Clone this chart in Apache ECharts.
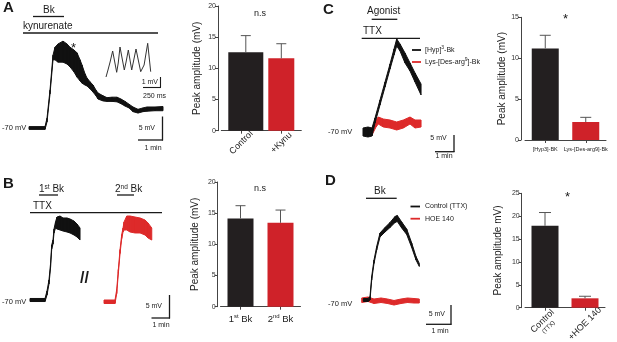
<!DOCTYPE html>
<html><head><meta charset="utf-8">
<script src="https://cdn.jsdelivr.net/npm/echarts@6/dist/echarts.min.js"></script>
<style>html,body{margin:0;padding:0;background:#fff}#c{width:617px;height:342px}</style>
</head><body><div id="c"></div>
<script>
// ---------- bar chart data ----------
const barA_cats = ['Control', '+Kynu'];
const barA_vals = [12.6, 11.6];
const barA_err = [2.65, 2.35];
const barB_cats = ['1st Bk', '2nd Bk'];
const barB_vals = [14.15, 13.45];
const barB_err = [2.05, 2.05];
const barC_cats = ['[Hyp3]-BK', 'Lys-[Des-arg9]-Bk'];
const barC_vals = [11.2, 2.2];
const barC_err = [1.6, 0.57];
const barD_cats = ['Control (TTX)', '+HOE 140'];
const barD_vals = [17.9, 2.05];
const barD_err = [2.9, 0.45];
const yTicksA = [0, 20], yTicksB = [0, 20], yTicksC = [0, 15], yTicksD = [0, 25];

// ---------- traces: [time (s), upper envelope (mV), lower envelope (mV)] ----------
const traceA = [[0,-69.7,-70.3],[40,-69.7,-70.3],[45,-67.9,-68.7],[52.5,-61.9,-62.7],[60,-54.4,-55.4],[65,-52.7,-55.4],[72.5,-52.0,-55.9],[85,-51.4,-55.9],[95,-52.0,-56.3],[102.5,-52.7,-56.9],[112.5,-53.3,-58.0],[120,-53.9,-59.1],[127.5,-55.4,-59.9],[132.5,-56.5,-60.4],[140,-58.4,-60.8],[145,-59.3,-61.0],[152.5,-60.1,-61.6],[160,-60.8,-62.3],[167.5,-61.9,-63.1],[172.5,-62.5,-63.8],[185,-63.1,-64.2],[195,-63.5,-64.3],[207.5,-63.4,-64.3],[220,-63.4,-64.4],[230,-63.8,-64.8],[240,-64.3,-65.3],[250,-64.9,-65.7],[260,-65.5,-66.5],[272.5,-66.0,-66.8],[285,-65.7,-66.5],[295,-65.5,-66.4],[315,-65.5,-66.3],[335,-65.4,-66.3]];
// inset: [time (ms), mV]
const insetA = [[0,0],[29,0.7],[60,1.5],[98,2.6],[157,0.47],[180,1.4],[206,3.0],[269,0.7],[295,1.5],[328,2.7],[378,0.7],[405,1.6],[441,2.8],[510,0.53],[560,1.2],[613,3.37],[657,0.53]];
const traceB1 = [[0,-69.67,-70.33],[53,-69.67,-70.33],[60,-68.04,-68.91],[67,-65.65,-66.52],[72.4,-62.17,-63.04],[76.6,-58.04,-58.91],[81.2,-56.96,-57.83],[84.7,-54.57,-55.43],[90,-53.04,-54.35],[95.3,-51.96,-54.57],[105.9,-51.74,-54.78],[116.5,-52.17,-55.0],[130.6,-52.17,-55.22],[141.2,-52.39,-55.43],[155.3,-52.83,-55.87],[165.9,-53.48,-56.3],[176.5,-54.35,-56.96]];
const traceB2 = [[261.2,-70,-70.76],[300,-70,-70.76],[306,-67.72,-68.59],[311.7,-63.37,-64.24],[317.7,-59.02,-59.89],[323.7,-55.76,-56.63],[328.3,-54.35,-55.22],[331.8,-53.04,-54.78],[341.4,-51.74,-54.78],[353,-51.74,-55.22],[370.6,-51.96,-55.43],[388.3,-52.17,-55.43],[406,-52.61,-55.87],[416.5,-53.26,-56.52],[429.6,-54.35,-56.96]];
const traceC1 = [[0,-68.89,-71.29],[15.8,-68.59,-71.59],[28.4,-68.89,-71.29],[37.9,-65.89,-67.39],[53.7,-60.48,-61.98],[69.5,-55.08,-56.58],[85.3,-49.67,-51.17],[97.9,-45.17,-46.97],[106.4,-42.16,-44.26],[116.8,-43.66,-45.77],[132.6,-46.37,-49.37],[148.4,-49.37,-51.77],[164.2,-52.37,-55.08],[183.2,-55.68,-58.98]];
const traceC2 = [[28.4,-68.89,-70.99],[41.1,-66.49,-68.59],[48.3,-65.59,-67.69],[64.1,-66.19,-68.59],[85.3,-66.49,-68.89],[106.4,-67.09,-69.49],[127.3,-66.49,-68.89],[148.4,-65.59,-67.69],[164.2,-66.49,-68.89],[183.2,-66.49,-68.59]];
const traceD1 = [[4,-69.61,-70.39],[15.75,-69.61,-70.39],[20.75,-69.08,-70],[25,-63.82,-64.74],[30.75,-59.47,-60.39],[37.5,-55.92,-56.84],[45.75,-52.37,-53.42],[58.25,-50.92,-52.11],[70.75,-49.61,-50.92],[83.25,-48.03,-49.61],[89,-47.76,-49.34],[100,-49.47,-51.05],[112.5,-51.32,-52.76],[125,-55.0,-56.18],[135.75,-58.55,-59.47],[144,-60.39,-61.18]];
const traceD2 = [[0,-69.47,-70.66],[15.75,-69.21,-70.39],[30.75,-69.74,-70.92],[48.25,-69.47,-70.66],[64.5,-69.74,-70.92],[80.75,-70.13,-71.32],[98.25,-69.74,-70.92],[114.5,-69.47,-70.66],[130.75,-69.61,-70.79],[144,-69.74,-70.79]];

// ---------- styling ----------
const FONT = 'Liberation Sans, Arial, sans-serif';
const BLACK = '#231f20', RED = '#cf2229', TBLACK = '#111', TRED = '#dd2a2a';
const AX = '#444';

function bandSeries(trace, idx, color) {
  return {
    type: 'custom', xAxisIndex: idx, yAxisIndex: idx, data: trace, silent: true,
    encode: { x: 0, y: [1, 2] },
    renderItem: function (params, api) {
      const i = params.dataIndex;
      if (i >= trace.length - 1) return null;
      const b = trace[i + 1];
      const p1 = api.coord([api.value(0), api.value(1)]);
      const p4 = api.coord([api.value(0), api.value(2)]);
      const p2 = api.coord([b[0], b[1]]);
      const p3 = api.coord([b[0], b[2]]);
      return { type: 'polygon', shape: { points: [p1, p2, p3, p4] },
        style: { fill: color, stroke: color, lineWidth: 1, lineJoin: 'round' } };
    }
  };
}
function errSeries(vals, errs, idx, offsets, half) {
  return {
    type: 'custom', xAxisIndex: idx, yAxisIndex: idx, z: 5, silent: true,
    data: vals.map((v, i) => [i, v, errs[i]]),
    renderItem: function (params, api) {
      const v = api.value(1), e = api.value(2);
      const p0 = api.coord([api.value(0), v]), p1 = api.coord([api.value(0), v + e]);
      const x = p0[0] + (offsets ? offsets[params.dataIndex] : 0);
      return { type: 'group', children: [
        { type: 'line', shape: { x1: x, y1: p0[1], x2: x, y2: p1[1] }, style: { stroke: '#555', lineWidth: 1 } },
        { type: 'line', shape: { x1: x - half, y1: p1[1], x2: x + half, y2: p1[1] }, style: { stroke: '#555', lineWidth: 1 } }
      ] };
    }
  };
}
function hid(gi, min, max) { return { type: 'value', gridIndex: gi, min: min, max: max, show: false }; }
function barY(gi, ticks, nameGap, offset, name) {
  return { type: 'value', gridIndex: gi, min: ticks[0], max: ticks[1], interval: 5, offset: offset,
    name: name, nameLocation: 'middle', nameGap: nameGap,
    nameTextStyle: { fontSize: 10, color: '#222', fontFamily: FONT },
    axisLine: { show: true, lineStyle: { color: AX, width: 1 } },
    axisTick: { show: true, length: 3, lineStyle: { color: AX } },
    axisLabel: { fontSize: 7, color: '#333', margin: 2, fontFamily: FONT },
    splitLine: { show: false } };
}
function barX(gi, cats, lab) {
  return { type: 'category', gridIndex: gi, data: cats,
    axisLine: { show: true, lineStyle: { color: AX, width: 1 } },
    axisTick: { show: true, alignWithLabel: true, length: 3, lineStyle: { color: AX } },
    axisLabel: Object.assign({ fontSize: 9, color: '#222', interval: 0, fontFamily: FONT }, lab) };
}
function G(l, t, w, h) { return { left: l, top: t, width: w, height: h, containLabel: false, outerBoundsMode: 'none' }; }

function T(x, y, text, size, o) {
  const s = Object.assign({ x: x, y: y, text: text, fontSize: size, fontFamily: FONT, fill: '#1a1a1a',
    textAlign: 'left', align: 'left', textVerticalAlign: 'middle', verticalAlign: 'middle' }, o || {});
  if (o && o.align) s.textAlign = o.align;
  return { type: 'text', silent: true, style: s };
}
function L(x1, y1, x2, y2, w, c) {
  return { type: 'line', silent: true, shape: { x1: x1, y1: y1, x2: x2, y2: y2 }, style: { stroke: c || '#1a1a1a', lineWidth: w || 1.3 } };
}
const supRich = { n: { fontSize: 10, fontFamily: FONT, lineHeight: 12 }, s: { fontSize: 6.5, fontFamily: FONT, verticalAlign: 'top', lineHeight: 7 } };
const supRich7 = { s: { fontSize: 5, fontFamily: FONT, verticalAlign: 'top', lineHeight: 5 } };

const graphics = [
  // Panel A
  T(3, 8, 'A', 15, { fontWeight: 'bold' }),
  T(43, 10, 'Bk', 10), L(33, 16.5, 64, 16.5),
  T(23, 26, 'kynurenate', 10), L(23, 33, 158, 33),
  T(73.5, 48.5, '*', 13, { align: 'center' }),
  T(2, 128, '-70 mV', 7.5),
  L(160.5, 77, 160.5, 87.5, 1.1), L(143, 87.5, 161, 87.5, 1.1),
  T(158, 82, '1 mV', 7, { align: 'right' }), T(154.5, 96, '250 ms', 7, { align: 'center' }),
  L(162.5, 116.5, 162.5, 140.5), L(138, 140, 163, 140),
  T(155, 128, '5 mV', 7, { align: 'right' }), T(153, 148, '1 min', 7, { align: 'center' }),
  T(260, 13.5, 'n.s', 9, { align: 'center' }),
  // Panel B
  T(3, 184, 'B', 15, { fontWeight: 'bold' }),
  T(39, 189.5, '{n|1}{s|st}{n| Bk}', 10, { rich: supRich }), L(39, 195, 58, 195),
  T(115, 189.5, '{n|2}{s|nd}{n| Bk}', 10, { rich: supRich }), L(117, 195, 134, 195),
  T(33, 206.5, 'TTX', 10), L(30, 212.7, 162, 212.7),
  T(84.5, 279, '//', 16, { align: 'center', fontWeight: 'bold' }),
  T(2, 302, '-70 mV', 7.5),
  L(169.5, 295, 169.5, 318.5), L(151.5, 318, 170, 318),
  T(162, 306, '5 mV', 7, { align: 'right' }), T(161, 325, '1 min', 7, { align: 'center' }),
  T(260, 189, 'n.s', 9, { align: 'center' }),
  // Panel C
  T(323, 10, 'C', 15, { fontWeight: 'bold' }),
  T(367, 11.5, 'Agonist', 10), L(371.7, 19.3, 397.3, 19.3),
  T(363, 31.5, 'TTX', 10), L(361.7, 38.3, 420, 38.3),
  L(412, 50, 421, 50, 1.8, TBLACK), T(425, 50, '[Hyp]{s|3}-Bk', 7, { rich: supRich7, lineHeight: 9 }),
  L(412, 62, 421, 62, 1.8, TRED), T(425, 62, 'Lys-[Des-arg{s|9}]-Bk', 7, { rich: supRich7, lineHeight: 9 }),
  T(328, 131.7, '-70 mV', 7.5),
  L(454, 135, 454, 152), L(435, 151.7, 454.5, 151.7),
  T(446.7, 138.3, '5 mV', 7, { align: 'right' }), T(444, 156.5, '1 min', 7, { align: 'center' }),
  T(565.5, 19, '*', 13, { align: 'center' }),
  // Panel D
  T(325, 180.5, 'D', 15, { fontWeight: 'bold' }),
  T(374, 191, 'Bk', 10), L(366, 198.3, 396.7, 198.3),
  L(410.5, 206.5, 420, 206.5, 1.8, TBLACK), T(425, 206.5, 'Control (TTX)', 7),
  L(410.5, 218.7, 420, 218.7, 1.8, TRED), T(425, 218.7, 'HOE 140', 7),
  T(328, 304, '-70 mV', 7.5),
  L(451, 305, 451, 324.8), L(426, 324.3, 451.5, 324.3),
  T(445, 314, '5 mV', 7, { align: 'right' }), T(440, 331, '1 min', 7, { align: 'center' }),
  T(567.5, 197, '*', 13, { align: 'center' })
];

const option = {
  animation: false,
  textStyle: { fontFamily: FONT },
  grid: [
    G(29, 39.27, 134, 93.4),      // 0 A trace
    G(106, 42, 44.9, 35),         // 1 A inset
    G(221.3, 6, 80, 124.7),       // 2 A bar
    G(30, 212.6, 124.7, 92),      // 3 B trace
    G(220.5, 182, 80, 124.7),     // 4 B bar
    G(363, 35.1, 60.2, 106.6),    // 5 C trace
    G(525, 17.3, 81, 122.7),      // 6 C bar
    G(361.7, 208.8, 60, 98.8),    // 7 D trace
    G(525, 193.3, 80, 114.4)      // 8 D bar
  ],
  xAxis: [
    hid(0, 0, 335), hid(1, 0, 660),
    barX(2, barA_cats, { rotate: 45, align: 'center', verticalAlign: 'middle', margin: 12 }),
    hid(3, 0, 440),
    barX(4, barB_cats, { margin: 7, formatter: v => v.replace(/^(\d)(st|nd|rd|th)(.*)$/, '{n|$1}{s|$2}{n|$3}'),
      rich: { n: { fontSize: 9.5, fontFamily: FONT, lineHeight: 12 }, s: { fontSize: 6, fontFamily: FONT, verticalAlign: 'top', lineHeight: 7 } } }),
    hid(5, 0, 190),
    barX(6, barC_cats, { fontSize: 5.5, margin: 6 }),
    hid(7, 0, 150),
    barX(8, barD_cats, { rotate: 45, align: 'center', verticalAlign: 'middle', margin: 16,
      formatter: v => { const m = v.match(/^(.*?) (\(.*\))$/); return m ? '{a|' + m[1] + '}\n{b|' + m[2] + '}' : '{a|' + v + '}'; },
      rich: { a: { fontSize: 9, fontFamily: FONT, lineHeight: 10 }, b: { fontSize: 6, fontFamily: FONT, lineHeight: 7 } } })
  ],
  yAxis: [
    hid(0, -71, -51), hid(1, 0, 3.5),
    barY(2, yTicksA, 16, 3.3, 'Peak amplitude (mV)'),
    hid(3, -71, -51),
    barY(4, yTicksB, 17, 2.8, 'Peak amplitude (mV)'),
    hid(5, -73, -41),
    barY(6, yTicksC, 14, 4, 'Peak amplitude (mV)'),
    hid(7, -72, -46),
    barY(8, yTicksD, 18, 3.3, 'Peak amplitude mV)')
  ],
  series: [
    bandSeries(traceA, 0, TBLACK),
    { type: 'line', xAxisIndex: 1, yAxisIndex: 1, data: insetA, showSymbol: false, silent: true,
      lineStyle: { color: '#333', width: 1 } },
    { type: 'bar', xAxisIndex: 2, yAxisIndex: 2, data: [barA_vals[0], '-'], barWidth: 35, barGap: '-100%', itemStyle: { color: BLACK } },
    { type: 'bar', xAxisIndex: 2, yAxisIndex: 2, data: ['-', barA_vals[1]], barWidth: 26, barGap: '-100%', itemStyle: { color: RED } },
    errSeries(barA_vals, barA_err, 2, [4.5, 0], 5),
    bandSeries(traceB1, 3, TBLACK),
    bandSeries(traceB2, 3, TRED),
    { type: 'bar', xAxisIndex: 4, yAxisIndex: 4, barWidth: 26,
      data: barB_vals.map((v, i) => ({ value: v, itemStyle: { color: [BLACK, RED][i] } })) },
    errSeries(barB_vals, barB_err, 4, null, 5),
    bandSeries(traceC2, 5, TRED),
    bandSeries(traceC1, 5, TBLACK),
    { type: 'bar', xAxisIndex: 6, yAxisIndex: 6, barWidth: 27,
      data: barC_vals.map((v, i) => ({ value: v, itemStyle: { color: [BLACK, RED][i] } })) },
    errSeries(barC_vals, barC_err, 6, null, 5.5),
    bandSeries(traceD2, 7, TRED),
    bandSeries(traceD1, 7, TBLACK),
    { type: 'bar', xAxisIndex: 8, yAxisIndex: 8, barWidth: 27,
      data: barD_vals.map((v, i) => ({ value: v, itemStyle: { color: [BLACK, RED][i] } })) },
    errSeries(barD_vals, barD_err, 8, null, 6)
  ],
  graphic: { elements: graphics }
};
const chart = echarts.init(document.getElementById('c'), null, { renderer: 'canvas' });
chart.setOption(option);
</script></body></html>
